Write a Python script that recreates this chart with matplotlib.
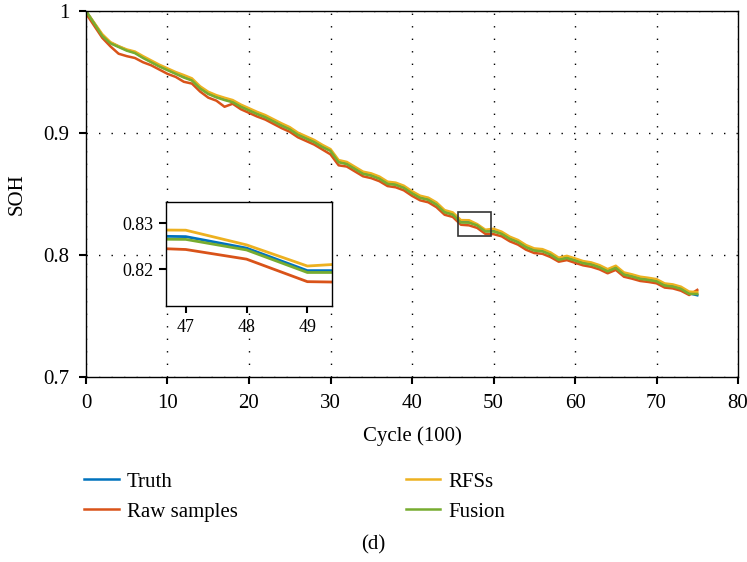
import matplotlib
matplotlib.use("Agg")
import matplotlib.pyplot as plt
import matplotlib.patches as mpatches
import numpy as np

plt.rcParams["font.family"] = ["Liberation Serif", "DejaVu Serif"]

# cycle index (x100 cycles)
cycles = np.arange(0, 76)

truth = [1.000, 0.990, 0.980, 0.974, 0.971, 0.968, 0.966, 0.962, 0.9585, 0.955,
         0.952, 0.949, 0.946, 0.9435, 0.937, 0.9325, 0.9297, 0.9276, 0.9257, 0.922,
         0.919, 0.916, 0.9134, 0.910, 0.9066, 0.9035, 0.899, 0.896, 0.893, 0.889,
         0.886, 0.8765, 0.875, 0.871, 0.867, 0.8656, 0.863, 0.8588, 0.858, 0.8555,
         0.851, 0.8473, 0.8457, 0.8418, 0.8355, 0.8336, 0.8273, 0.8271, 0.8246, 0.8197,
         0.8197, 0.8178, 0.8137, 0.811, 0.8068, 0.8041, 0.8035, 0.8008, 0.7965, 0.798,
         0.7959, 0.7937, 0.7926, 0.7904, 0.7871, 0.7899, 0.7844, 0.7828, 0.7809, 0.780,
         0.7789, 0.7754, 0.7746, 0.7727, 0.7686, 0.767]

raw = [0.998, 0.988, 0.978, 0.971, 0.965, 0.963, 0.9615, 0.958, 0.9555, 0.952,
       0.9485, 0.946, 0.942, 0.9405, 0.934, 0.929, 0.9265, 0.9215, 0.924, 0.9195,
       0.9165, 0.9135, 0.911, 0.9075, 0.904, 0.901, 0.8965, 0.8935, 0.8905, 0.8865,
       0.8825, 0.8735, 0.8725, 0.8685, 0.8645, 0.863, 0.8605, 0.8565, 0.8555, 0.853,
       0.8485, 0.8448, 0.8432, 0.8392, 0.833, 0.8312, 0.8248, 0.8243, 0.8222, 0.8173,
       0.8171, 0.8153, 0.8112, 0.8085, 0.8043, 0.8016, 0.801, 0.7983, 0.7945, 0.7958,
       0.7936, 0.7915, 0.7903, 0.7882, 0.785, 0.7878, 0.7822, 0.7806, 0.7787, 0.7779,
       0.7768, 0.7733, 0.7726, 0.7707, 0.7672, 0.7714]

rfss = [1.000, 0.9905, 0.981, 0.9745, 0.9712, 0.9685, 0.9668, 0.963, 0.9595, 0.956,
        0.953, 0.950, 0.9475, 0.9448, 0.9383, 0.9338, 0.931, 0.9289, 0.927, 0.9233,
        0.9203, 0.9173, 0.9147, 0.9113, 0.9079, 0.9048, 0.9003, 0.8973, 0.8943, 0.8903,
        0.8868, 0.8778, 0.8763, 0.8723, 0.8683, 0.8669, 0.8643, 0.8601, 0.8593, 0.8568,
        0.8523, 0.8486, 0.847, 0.8431, 0.8368, 0.8349, 0.8286, 0.8285, 0.8253, 0.8207,
        0.8215, 0.8191, 0.815, 0.8123, 0.8081, 0.8054, 0.8048, 0.8021, 0.7978, 0.7993,
        0.7972, 0.795, 0.7939, 0.7917, 0.7884, 0.7912, 0.7857, 0.7841, 0.7822, 0.7813,
        0.7802, 0.7767, 0.7759, 0.774, 0.770, 0.7695]

fusion = [1.000, 0.9898, 0.9795, 0.9735, 0.9705, 0.9675, 0.9655, 0.9615, 0.958, 0.9545,
          0.9515, 0.9485, 0.9455, 0.943, 0.9365, 0.932, 0.9292, 0.927, 0.9252, 0.9215,
          0.9185, 0.9155, 0.9129, 0.9095, 0.906, 0.903, 0.8985, 0.8955, 0.8925, 0.8885,
          0.8853, 0.876, 0.8745, 0.8705, 0.8665, 0.865, 0.8625, 0.8583, 0.8575, 0.855,
          0.8505, 0.8468, 0.8452, 0.8413, 0.835, 0.8331, 0.8266, 0.8265, 0.8242, 0.8193,
          0.8193, 0.8173, 0.8132, 0.8105, 0.8063, 0.8036, 0.803, 0.8003, 0.796, 0.7975,
          0.7954, 0.7932, 0.7921, 0.7899, 0.7866, 0.7894, 0.7839, 0.7823, 0.7804, 0.7795,
          0.7784, 0.7749, 0.7741, 0.7722, 0.7681, 0.768]

SERIES = [
    ("Truth", truth, "#0072BD"),
    ("Raw samples", raw, "#D95319"),
    ("RFSs", rfss, "#EDB120"),
    ("Fusion", fusion, "#77AC30"),
]

fig = plt.figure(figsize=(7.47, 5.62), dpi=100)
ax = fig.add_axes([0.1151, 0.3292, 0.8729, 0.6512])

lines = []
for name, vals, color in SERIES:
    (ln,) = ax.plot(cycles, vals, color=color, lw=1.8, label=name)
    lines.append(ln)

ax.set_xlim(0, 80)
ax.set_ylim(0.7, 1.0)
ax.set_xticks(np.arange(0, 81, 10))
ax.set_yticks([0.7, 0.8, 0.9, 1.0])
ax.set_yticklabels(["0.7", "0.8", "0.9", "1"])
ax.grid(True, color="black", linestyle=(0, (1, 8)), lw=1.0)
ax.tick_params(direction="out", length=5, width=1.5, labelsize=15, pad=7)
for s in ax.spines.values():
    s.set_linewidth(1.0)
ax.set_xlabel("Cycle (100)", fontsize=15, labelpad=10)
ax.set_ylabel("SOH", fontsize=15, labelpad=12)

# zoom box on the main axes
ax.add_patch(mpatches.Rectangle((45.7, 0.8152), 4.0, 0.0198, fill=False,
                                edgecolor="#333333", lw=1.2, zorder=6))

# inset
ins = fig.add_axes([0.2218, 0.4555, 0.2222, 0.1856])
for name, vals, color in SERIES:
    ins.plot(cycles, vals, color=color, lw=2.0)
ins.set_xlim(46.67, 49.4)
ins.set_ylim(0.812, 0.8347)
ins.set_xticks([47, 48, 49])
ins.set_yticks([0.82, 0.83])
ins.tick_params(direction="out", length=5, width=1.5, labelsize=13, pad=4)
for s in ins.spines.values():
    s.set_linewidth(1.0)

leg_kw = dict(frameon=False, fontsize=15, handlelength=1.65, handletextpad=0.4,
              labelspacing=0.5, borderaxespad=0, borderpad=0)
fig.legend(lines[:2], ["Truth", "Raw samples"], loc="upper left",
           bbox_to_anchor=(0.113, 0.16), **leg_kw)
fig.legend(lines[2:], ["RFSs", "Fusion"], loc="upper left",
           bbox_to_anchor=(0.543, 0.16), **leg_kw)

fig.text(0.5, 0.03, "(d)", ha="center", va="center", fontsize=15)

fig.savefig("out.png", dpi=100)
